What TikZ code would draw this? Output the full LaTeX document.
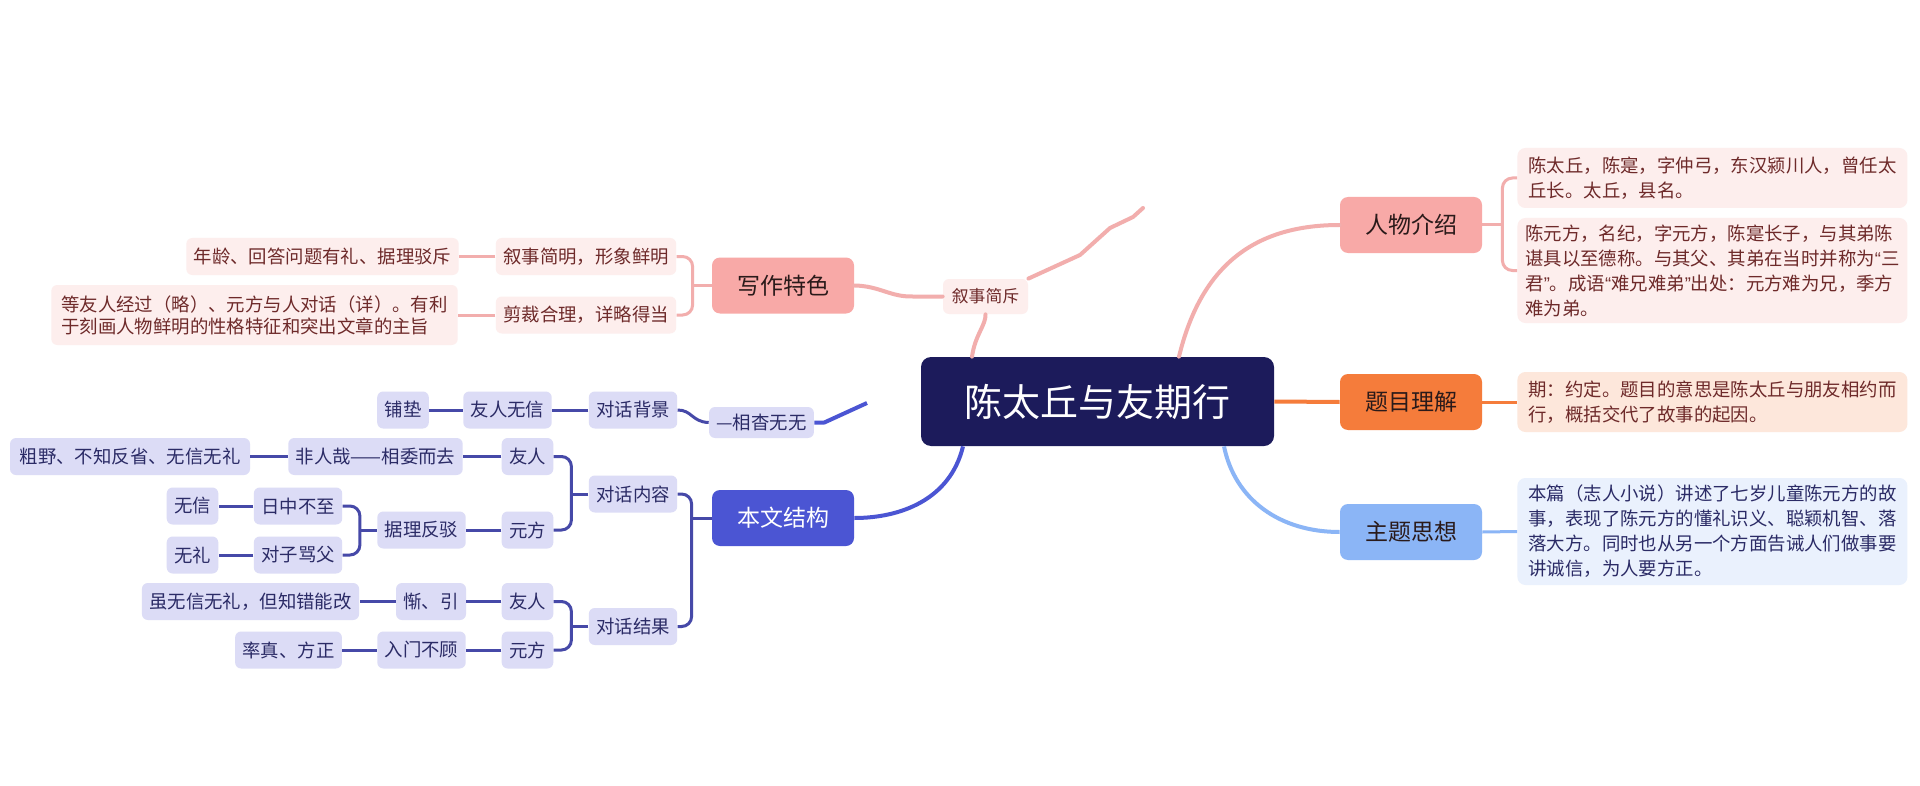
\documentclass[tikz,border=0pt]{standalone}
\usepackage{fontspec}
\setmainfont{Noto Sans CJK SC}
\newfontfamily\latq{Liberation Sans}
\newcommand\myqo{{\latq “}}
\newcommand\myqc{{\latq ”}}
\definecolor{navy}{HTML}{1C1B5B}
\definecolor{pinkm}{HTML}{F8A9A7}
\definecolor{pinkl}{HTML}{FDEEED}
\definecolor{pinkline}{HTML}{F2AEAD}
\definecolor{maroon}{HTML}{6E2A2A}
\definecolor{orangem}{HTML}{F57C3B}
\definecolor{peach}{HTML}{FDE7DB}
\definecolor{bluem}{HTML}{8BB5F6}
\definecolor{bluel}{HTML}{EAF1FD}
\definecolor{royal}{HTML}{4B55D3}
\definecolor{lav}{HTML}{DCDCF6}
\definecolor{lavline}{HTML}{4649A8}
\definecolor{lavtext}{HTML}{2B2B66}
\definecolor{darktext}{HTML}{2A1A1A}
\begin{document}
\begin{tikzpicture}[x=0.5pt,y=-0.5pt,
  mainn/.style={rounded corners=4pt, minimum width=71pt, minimum height=28pt, inner sep=0pt, font=\fontsize{11.5}{13}\selectfont, text=darktext},
  subp/.style={rounded corners=3pt, fill=pinkl, text=maroon, minimum height=18.5pt, inner xsep=3.7pt, inner ysep=0pt, font=\fontsize{9.2}{11}\selectfont},
  subl/.style={subp, fill=lav, text=lavtext},
  tbox/.style={rounded corners=4pt, align=left, anchor=west, inner xsep=4pt, inner ysep=3pt, font=\fontsize{9.2}{12.5}\selectfont, minimum width=195pt},
  pl/.style={draw=pinkline, line width=2pt, line cap=round},
  pb/.style={draw=pinkline, line width=1.5pt, rounded corners=5pt},
  lb/.style={draw=lavline, line width=1.5pt, rounded corners=5pt},
]
\fill[white] (0,0) rectangle (1920,786);
\useasboundingbox (0,0) rectangle (1920,786);

% central
\node[fill=navy, text=white, rounded corners=5pt, minimum width=176.5pt, minimum height=44.5pt, inner sep=0pt, font=\fontsize{19}{22}\selectfont] (C) at (1097.5,401.5) {陈太丘与友期行};

% right side
\node[mainn, fill=pinkm] (rw) at (1411,225) {人物介绍};
\node[mainn, fill=orangem] (tm) at (1411,402) {题目理解};
\node[mainn, fill=bluem] (zt) at (1411,532) {主题思想};

\node[tbox, fill=pinkl, text=maroon, minimum height=30pt] (t1) at (1517,178) {陈太丘，陈寔，字仲弓，东汉颍川人，曾任太\\丘长。太丘，县名。};
\node[tbox, fill=pinkl, text=maroon, minimum height=52.5pt, inner xsep=3pt] (t2) at (1517,270.5) {陈元方，名纪，字元方，陈寔长子，与其弟陈\\谌具以至德称。与其父、其弟在当时并称为\myqo 三\\君\myqc 。成语\myqo 难兄难弟\myqc 出处：元方难为兄，季方\\难为弟。};
\node[tbox, fill=peach, text=maroon, minimum height=30pt] (t3) at (1517,402) {期：约定。题目的意思是陈太丘与朋友相约而\\行，概括交代了故事的起因。};
\node[tbox, fill=bluel, text=lavtext, minimum height=53.5pt] (t4) at (1517,531.5) {本篇（志人小说）讲述了七岁儿童陈元方的故\\事，表现了陈元方的懂礼识义、聪颖机智、落\\落大方。同时也从另一个方面告诫人们做事要\\讲诚信，为人要方正。};

\draw[pl] ([xshift=40.75pt]C.north) .. controls (1200,270) and (1250,225) .. (rw.west);
\draw[draw=orangem, line width=2pt] (C.east) -- (tm.west);
\draw[draw=bluem, line width=2pt] ([xshift=63.25pt]C.south) .. controls (1235,500) and (1280,532) .. (zt.west);
\draw[pb] (t1.west) -| ([xshift=10pt]rw.east) |- (t2.west);
\draw[pb] (rw.east) -- ++(20,0);
\draw[draw=orangem, line width=1.5pt] (tm.east) -- (t3.west);
\draw[draw=bluem, line width=1.5pt] (zt.east) -- (t4.west);

% left top: writing features
\node[mainn, fill=pinkm] (xz) at (783,285.5) {写作特色};
\node[subp, font=\fontsize{8.4}{10}\selectfont, minimum width=42.5pt, minimum height=17.5pt] (xsjc) at (985.5,296.5) {叙事简斥};
\node[subp] (xsjm) at (586,256.5) {叙事简明，形象鲜明};
\node[subp] (nl) at (322.5,256.5) {年龄、回答问题有礼、据理驳斥};
\node[subp] (jc) at (586,315) {剪裁合理，详略得当};
\node[subp, align=left, minimum height=30pt, inner xsep=5pt] (dy) at (254.5,315) {等友人经过（略）、元方与人对话（详）。有利\\于刻画人物鲜明的性格特征和突出文章的主旨};

\coordinate (s1) at (1143,208);
\draw[pl] ([xshift=-62.75pt]C.north) .. controls (975,335) and (986,325) .. (xsjc.south);
\draw[pl, line join=round] (xsjc.north east) -- (1080,255) -- (1110,228) -- (1133,217) -- (s1);
\draw[pl] (xsjc.west) -- ++(-30,0) .. controls (890,297) and (880,286) .. (xz.east);
\draw[pb] (xsjm.east) -| ([xshift=-9.5pt]xz.west) |- (jc.east);
\draw[pb] (xz.west) -- ++(-19,0);
\draw[pb] (xsjm.west) -- (nl.east);
\draw[pb] (jc.west) -- (dy.east);

% left bottom: structure
\node[mainn, fill=royal, text=white] (bw) at (783,518) {本文结构};
\node[subl] (dhbj) at (633,410) {对话背景};
\node[subl] (yrwx) at (507.5,410) {友人无信};
\node[subl] (pd) at (403,410) {铺垫};
\node[subl, minimum height=15.5pt] (xy) at (761.5,422.5) {—相杳无无};
\node[subl] (dhnr) at (633,494) {对话内容};
\node[subl] (yr1) at (527.5,456.5) {友人};
\node[subl] (frz) at (375.5,456.5) {非人哉——相委而去};
\node[subl, minimum width=120pt] (cy) at (130,456.5) {粗野、不知反省、无信无礼};
\node[subl] (yf1) at (527.5,530) {元方};
\node[subl] (jlfb) at (421.5,530) {据理反驳};
\node[subl] (rzbz) at (298,506) {日中不至};
\node[subl] (wx) at (192.5,506) {无信};
\node[subl] (dzmf) at (298,555) {对子骂父};
\node[subl] (wl) at (192.5,555) {无礼};
\node[subl] (dhjg) at (633,626.5) {对话结果};
\node[subl] (yr2) at (527.5,601.5) {友人};
\node[subl] (cyin) at (431,601.5) {惭、引};
\node[subl] (swx) at (250.5,601.5) {虽无信无礼，但知错能改};
\node[subl] (yf2) at (527.5,650) {元方};
\node[subl] (rmbg) at (421.5,650) {入门不顾};
\node[subl] (lz) at (288.5,650) {率真、方正};

\draw[draw=royal, line width=2pt] ([xshift=-67.25pt]C.south) .. controls (950,500) and (900,518) .. (bw.east);
\draw[lb] (dhnr.east) -| ([xshift=-10pt]bw.west) |- (dhjg.east);
\draw[lb] (bw.west) -- ++(-20,0);
\draw[lb] (yr1.east) -| ([xshift=-8.5pt]dhnr.west) |- (yf1.east);
\draw[lb] (dhnr.west) -- ++(-17,0);
\draw[lb] (rzbz.east) -| ([xshift=-8.5pt]jlfb.west) |- (dzmf.east);
\draw[lb] (jlfb.west) -- ++(-17,0);
\draw[lb] (yr2.east) -| ([xshift=-8.5pt]dhjg.west) |- (yf2.east);
\draw[lb] (dhjg.west) -- ++(-17,0);
\draw[lb] (dhbj.west) -- (yrwx.east);
\draw[lb] (yrwx.west) -- (pd.east);
\draw[lb] (yr1.west) -- (frz.east);
\draw[lb] (frz.west) -- (cy.east);
\draw[lb] (yf1.west) -- (jlfb.east);
\draw[lb] (rzbz.west) -- (wx.east);
\draw[lb] (dzmf.west) -- (wl.east);
\draw[lb] (yr2.west) -- (cyin.east);
\draw[lb] (cyin.west) -- (swx.east);
\draw[lb] (yf2.west) -- (rmbg.east);
\draw[lb] (rmbg.west) -- (lz.east);
\draw[lb] (dhbj.east) .. controls (692,410) and (692,422) .. (xy.west);
\coordinate (s2) at (867,403);
\draw[draw=royal, line width=2pt, line join=round] (xy.east) -- ++(10,0) -- (s2);
\end{tikzpicture}
\end{document}
